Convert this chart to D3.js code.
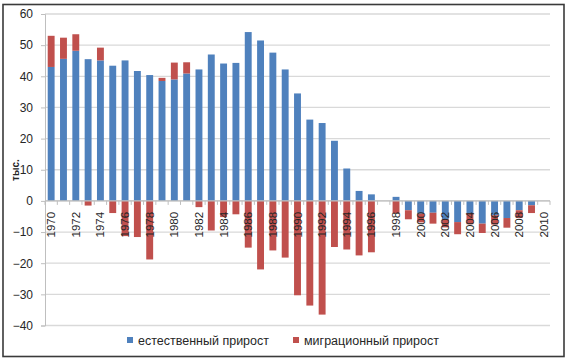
<!DOCTYPE html>
<html>
<head>
<meta charset="utf-8">
<script src="https://cdn.jsdelivr.net/npm/d3@7"></script>
<style>
body { margin: 0; background: #fff; }
text { font-family: "Liberation Sans", Arial, sans-serif; fill: #262626; }
</style>
</head>
<body>
<svg id="graphOne" width="570" height="363"></svg>
<script>
var years = d3.range(1970, 2011);
// естественный прирост, тыс.
var natural = [43.0, 45.6, 48.2, 45.5, 45.1, 43.4, 45.1, 41.7, 40.4, 38.5,
    39.0, 40.9, 42.2, 47.0, 44.1, 44.3, 54.2, 51.5, 47.6, 42.2,
    34.5, 26.1, 25.0, 19.3, 10.4, 3.2, 2.1, 0, 1.3, -3.0,
    -4.1, -3.8, -5.8, -6.8, -3.9, -7.3, -4.6, -5.5, -3.0, -1.4, 0];
// миграционный прирост, тыс.
var migration = [10.0, 6.8, 5.3, -1.5, 4.1, -3.9, -11.3, -11.6, -18.8, 1.0,
    5.4, 3.6, -2.0, -9.5, -5.2, -4.3, -15.0, -22.0, -15.9, -18.2,
    -30.3, -33.6, -36.5, -14.8, -15.6, -17.5, -16.5, 0, -4.0, -2.9,
    -2.8, -3.5, -2.7, -3.9, -3.6, -3.0, -3.0, -3.1, -2.5, -2.5, 0];
var yTicks = [-40, -30, -20, -10, 0, 10, 20, 30, 40, 50, 60];
var xLabels = years.filter(function(d) { return d % 2 == 0; });
var seriesNames = ["естественный прирост", "миграционный прирост"];
var colors = ["#4f81bd", "#c0504d"];

margin = {
    top: 14,
    bottom: 37,
    left: 45,
    right: 20
}
var svgWidth = 570, svgHeight = 363;
var plotLeft = margin.left, plotRight = svgWidth - margin.right;
var svg = d3.select('#graphOne');

// outer frame
svg.append("rect").attr("x", 3).attr("y", 4.5).attr("width", 561).attr("height", 352)
    .attr("fill", "none").attr("stroke", "#3a3a3a").attr("stroke-width", 1.6);

var scaleX = d3.scaleBand().domain(years).range([plotLeft, plotRight]).paddingInner(0.44).paddingOuter(0.22);
var scaleY = d3.scaleLinear().domain([-40, 60]).range([325.5, margin.top]);

// grid
svg.append("g").selectAll("line").data(yTicks).enter().append("line")
    .attr("x1", plotLeft).attr("x2", plotRight)
    .attr("y1", function(d) { return scaleY(d); }).attr("y2", function(d) { return scaleY(d); })
    .attr("stroke", "#d9d9d9").attr("stroke-width", 1.3);

// y axis
var yAxis = svg.append("g").attr("transform", "translate(" + plotLeft + ",0)")
    .call(d3.axisLeft(scaleY).tickValues(yTicks).tickSize(4).tickPadding(8));
yAxis.select(".domain").attr("stroke", "#bfbfbf");
yAxis.selectAll(".tick line").attr("stroke", "#bfbfbf");
yAxis.selectAll("text").style("font-size", "12px").style("font-family", "Liberation Sans, Arial, sans-serif").attr("fill", "#262626");

// bars
var table = years.map(function(y, i) {
    return { year: y, natural: natural[i], migration: migration[i] };
});
var stack = d3.stack().keys(["natural", "migration"]).offset(d3.stackOffsetDiverging);
var layers = stack(table);
svg.append("g").selectAll("g").data(layers).enter().append("g")
    .attr("fill", function(d, i) { return colors[i]; })
    .selectAll("rect").data(function(d) { return d; }).enter().append("rect")
    .attr("x", function(d) { return scaleX(d.data.year); })
    .attr("width", scaleX.bandwidth())
    .attr("y", function(d) { return scaleY(Math.max(d[0], d[1])); })
    .attr("height", function(d) { return Math.abs(scaleY(d[0]) - scaleY(d[1])); });

// x axis at zero
var zero = scaleY(0);
var cell = (plotRight - plotLeft) / years.length;
svg.append("line").attr("x1", plotLeft).attr("x2", plotRight).attr("y1", zero).attr("y2", zero)
    .attr("stroke", "#bfbfbf").attr("stroke-width", 1.2);
svg.append("g").selectAll("line").data(d3.range(years.length + 1)).enter().append("line")
    .attr("x1", function(i) { return plotLeft + i * cell; })
    .attr("x2", function(i) { return plotLeft + i * cell; })
    .attr("y1", zero).attr("y2", zero + 4)
    .attr("stroke", "#bfbfbf");
svg.append("g").selectAll("text").data(xLabels).enter().append("text")
    .attr("transform", function(d) {
        return "translate(" + (scaleX(d) + scaleX.bandwidth() / 2 + 4) + "," + (zero + 11) + ") rotate(-90)";
    })
    .attr("text-anchor", "end")
    .style("font-size", "11.5px")
    .text(function(d) { return d; });

// y title
svg.append("text").attr("transform", "translate(19,170) rotate(-90)")
    .attr("text-anchor", "middle").style("font-size", "10px").style("font-weight", "bold")
    .text("тыс.");

// legend
var legend = svg.append("g").attr("transform", "translate(0,340)");
var lx = [127, 293];
seriesNames.forEach(function(name, i) {
    legend.append("rect").attr("x", lx[i]).attr("y", -3).attr("width", 6).attr("height", 6).attr("fill", colors[i]);
    legend.append("text").attr("x", lx[i] + 11).attr("y", 4.5).style("font-size", "12.5px").text(name);
});
</script>
</body>
</html>
